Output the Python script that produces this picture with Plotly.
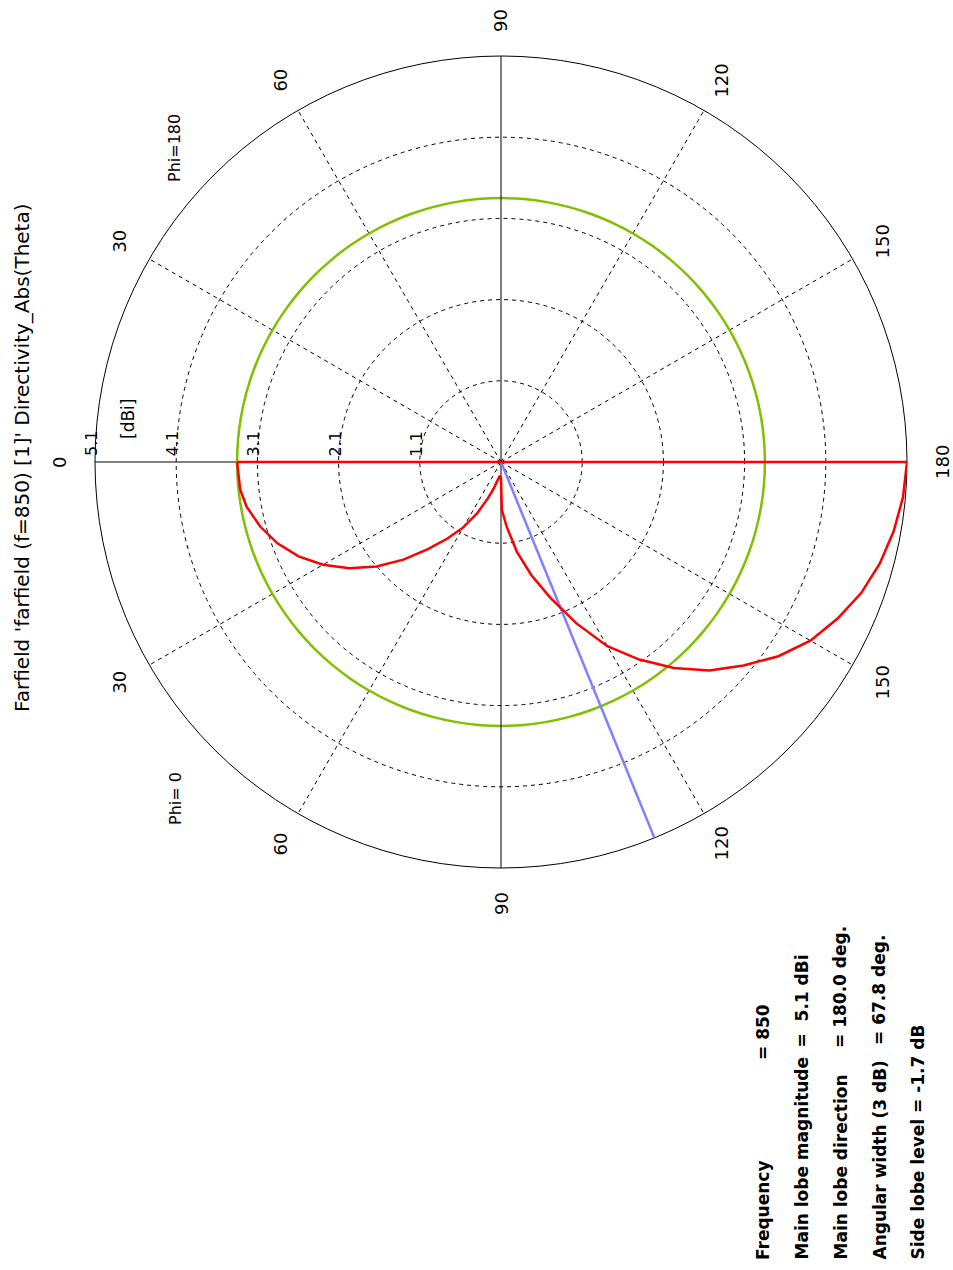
import math
import plotly.graph_objects as go

W, H = 953, 1270

# ---------------- data ----------------
# Phi = 0 cut : theta [deg] vs directivity [dBi]
THETA_PHI0 = [0, 6, 10, 15, 20, 25, 30, 35, 40, 45, 50, 55, 60, 65, 70, 75, 80, 85, 90,
              91, 95, 100, 105, 110, 115, 120, 125, 130, 135, 140, 145, 150, 155, 160,
              165, 170, 175, 180]
DBI_PHI0 = [3.35, 3.33, 3.28, 3.17, 3.03, 2.85, 2.63, 2.38, 2.10, 1.80, 1.50, 1.25, 1.03,
            0.80, 0.58, 0.43, 0.32, 0.27, 0.30,
            0.69, 0.90, 1.22, 1.54, 1.88, 2.29, 2.72, 3.07, 3.41, 3.73, 4.00, 4.27, 4.50,
            4.67, 4.82, 4.93, 5.01, 5.07, 5.10]
# Phi = 180 cut (everything between the poles lies at the bottom of the scale)
THETA_PHI180 = [0, 90, 180]
DBI_PHI180 = [3.35, 0.1, 5.10]

REF_LEVEL_DBI = 3.35        # green reference circle
BEAM_EDGE_THETA = 112.2     # blue marker line (phi = 0 side)

RADIAL_RANGE = [0.1, 5.1]
RADIAL_TICKS = [1.1, 2.1, 3.1, 4.1, 5.1]
RADIAL_TICKTEXT = ["1.1", "2.1", "3.1", "4.1", "5.1"]
ANGLE_TICKS_PHI0 = [0, 30, 60, 90, 120, 150, 180]
ANGLE_TICKS_PHI180 = [30, 60, 90, 120, 150]
DASHED_SPOKES = [30, 60, 120, 150, 210, 240, 300, 330]

TITLE = "Farfield 'farfield (f=850) [1]' Directivity_Abs(Theta)"
INFO_LABELS = ["Frequency", "Main lobe magnitude", "Main lobe direction",
               "Angular width (3 dB)", "Side lobe level = -1.7 dB"]
INFO_VALUES = ["= 850", "=\u00a0\u00a05.1 dBi", "= 180.0 deg.", "= 67.8 deg.", ""]

# ---------------- layout geometry ----------------
CX, CY, R = 501, 462, 406      # polar centre / radius in pixels
FONT = "DejaVu Sans, Verdana, Arial, sans-serif"
GRID_DASH = "4px,4px"


def to_paper(px, py):
    return px / W, 1 - py / H


def phi0_angle(theta):
    return theta


def phi180_angle(theta):
    return 360 - theta


def screen_px(plot_angle, radius_px):
    a = math.radians(180 + plot_angle)
    return CX + radius_px * math.cos(a), CY - radius_px * math.sin(a)


fig = go.Figure()

# green reference circle
circle_theta = list(range(0, 361, 5))
fig.add_trace(go.Scatterpolar(
    r=[REF_LEVEL_DBI] * len(circle_theta), theta=circle_theta, mode="lines",
    line=dict(color="#80c000", width=2.5, shape="spline"), hoverinfo="skip"))

# solid vertical axis line (theta = 90 in both half planes)
fig.add_trace(go.Scatterpolar(
    r=[RADIAL_RANGE[1], RADIAL_RANGE[0], RADIAL_RANGE[1]],
    theta=[phi0_angle(90), phi0_angle(90), phi180_angle(90)], mode="lines",
    line=dict(color="black", width=1), hoverinfo="skip"))

# blue beam edge marker
fig.add_trace(go.Scatterpolar(
    r=[RADIAL_RANGE[0], RADIAL_RANGE[1]],
    theta=[phi0_angle(BEAM_EDGE_THETA)] * 2, mode="lines",
    line=dict(color="#8080ff", width=2.5), hoverinfo="skip"))

# red pattern, phi = 180
fig.add_trace(go.Scatterpolar(
    r=DBI_PHI180, theta=[phi180_angle(t) for t in THETA_PHI180], mode="lines",
    line=dict(color="#ff0000", width=2.5), hoverinfo="skip"))

# red pattern, phi = 0
fig.add_trace(go.Scatterpolar(
    r=DBI_PHI0, theta=[phi0_angle(t) for t in THETA_PHI0], mode="lines",
    line=dict(color="#ff0000", width=2.5), hoverinfo="skip"))

dx0, dy0 = to_paper(CX - R, CY + R)
dx1, dy1 = to_paper(CX + R, CY - R)

annotations = []


def add_text(text, px, py, size, bold=False, xanchor="center", yanchor="middle"):
    x, y = to_paper(px, py)
    annotations.append(dict(
        text=f"<b>{text}</b>" if bold else text, x=x, y=y, xref="paper", yref="paper",
        showarrow=False, textangle=-90, xanchor=xanchor, yanchor=yanchor,
        font=dict(family=FONT, size=size, color="black")))


# angular tick labels
LABEL_R = 441
for t in ANGLE_TICKS_PHI0:
    add_text(str(t), *screen_px(phi0_angle(t), LABEL_R), 18)
for t in ANGLE_TICKS_PHI180:
    add_text(str(t), *screen_px(phi180_angle(t), LABEL_R), 18)

# radial tick labels (along the radial axis drawn to the left)
for v, txt in zip(RADIAL_TICKS, RADIAL_TICKTEXT):
    rpx = (v - RADIAL_RANGE[0]) / (RADIAL_RANGE[1] - RADIAL_RANGE[0]) * R
    add_text(txt, CX - rpx - 4, CY - 18, 16)
add_text("[dBi]", 128, 419, 17)

# phi labels
add_text("Phi=180", 175, 148, 16)
add_text("Phi=\u00a00", 175, 799, 16)

# title
add_text(TITLE, 22, 458, 20)

# info block
INFO_X = [763, 801, 840, 879, 917]
VALUE_BOTTOM = [1062, 1050, 1050, 1047, None]
for lab, val, xx, vb in zip(INFO_LABELS, INFO_VALUES, INFO_X, VALUE_BOTTOM):
    add_text(lab, xx, 1262, 17, bold=True, yanchor="bottom")
    if val:
        add_text(val, xx, vb, 17, bold=True, yanchor="bottom")

fig.update_layout(
    width=W, height=H, autosize=False,
    margin=dict(l=0, r=0, t=0, b=0, pad=0),
    paper_bgcolor="white", plot_bgcolor="white",
    showlegend=False,
    polar=dict(
        domain=dict(x=[dx0, dx1], y=[dy0, dy1]),
        bgcolor="white",
        angularaxis=dict(
            rotation=180, direction="counterclockwise",
            tickmode="array", tickvals=DASHED_SPOKES,
            showticklabels=False, ticks="", layer="below traces",
            showgrid=True, gridcolor="black", gridwidth=1, griddash=GRID_DASH,
            showline=True, linecolor="black", linewidth=1),
        radialaxis=dict(
            range=RADIAL_RANGE, tickmode="array", tickvals=RADIAL_TICKS,
            showticklabels=False, ticks="", layer="below traces",
            showgrid=True, gridcolor="black", gridwidth=1, griddash=GRID_DASH,
            showline=True, linecolor="black", linewidth=1, angle=180),
    ),
    annotations=annotations,
)

fig.write_html("out.html", include_plotlyjs=True, full_html=True,
               post_script="document.body.style.margin='0px';",
               config={"displayModeBar": False})
